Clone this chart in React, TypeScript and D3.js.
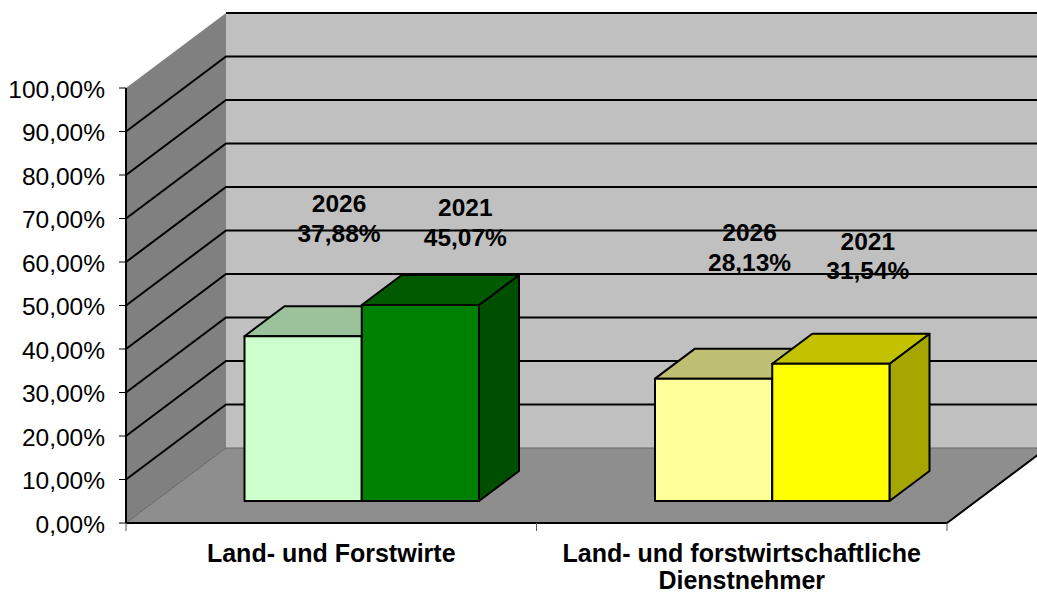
import * as d3 from "d3";

const categories = ["Land- und Forstwirte", "Land- und forstwirtschaftliche\nDienstnehmer"];
const seriesYears = ["2026", "2021"];
const values2026 = [37.88, 28.13];
const values2021 = [45.07, 31.54];
const yTicks = d3.range(0, 101, 10);

// front/top/side colours per category and series
const frontColors = [["#ccffcc", "#008000"], ["#ffff99", "#ffff00"]];
const topColors = [["#9cc29c", "#005a00"], ["#bfbf73", "#c2c200"]];
const sideColors = [["#7ca37c", "#004f00"], ["#a6a660", "#a6a600"]];

// hand placed data labels in the original, offset from top-centre of the front face
const labelDx = [[36, 45], [36, 37]];
const labelDy = [[-103, -67.5], [-116.5, -93]];

const width = 1037;
const height = 594;
const depthX = 100;
const depthY = 75;
const barDepthX = 40;
const barDepthY = 30;
const barOffsetX = 30.5; // bars sit part way into the floor
const barOffsetY = 22;

const font = "'Liberation Sans', Arial, sans-serif";

const x = d3.scaleBand().domain(categories).range([126, 947]);
const y = d3.scaleLinear().domain([0, 100]).range([523, 88]);
const inner = d3.scaleBand().domain(seriesYears).range([88, x.bandwidth() - 88]);

const poly = (pts: [number, number][]) => d3.line()(pts) + "Z";
const pct = (v: number) => v.toFixed(2).replace(".", ",") + "%";

export default function App() {
  const left = x.range()[0];
  const right = x.range()[1];
  const y0 = y(0);
  const y100 = y(100);
  const series = [values2026, values2021];

  return (
    <svg
      width={width}
      height={height}
      style={{ position: "absolute", left: 0, top: 0, background: "#fff" }}
      fontFamily={font}
    >
      {/* walls and floor */}
      <path
        d={poly([[left, y100], [left + depthX, y100 - depthY], [left + depthX, y0 - depthY], [left, y0]])}
        fill="#808080"
      />
      <rect x={left + depthX} y={y100 - depthY} width={right - left} height={y0 - y100} fill="#c0c0c0" />
      <path
        d={poly([[left, y0], [left + depthX, y0 - depthY], [right + depthX, y0 - depthY], [right, y0]])}
        fill="#8e8e8e"
      />
      <path
        d={d3.line()([[left, y0], [left + depthX, y0 - depthY], [right + depthX, y0 - depthY]])!}
        fill="none"
        stroke="#666"
        strokeWidth={1}
      />

      {/* grid lines, the top one stops short of the wall's slanted edge */}
      {yTicks.slice(1).map((t) => (
        <path
          key={t}
          d={
            t === 100
              ? d3.line()([[left + depthX, y(t) - depthY], [right + depthX, y(t) - depthY]])!
              : d3.line()([[left, y(t)], [left + depthX, y(t) - depthY], [right + depthX, y(t) - depthY]])!
          }
          fill="none"
          stroke="#000"
          strokeWidth={2}
        />
      ))}

      {/* value axis */}
      <line x1={left} x2={left} y1={y100} y2={y0} stroke="#000" strokeWidth={2} />
      {yTicks.map((t) => (
        <g key={t}>
          <line x1={left - 7} x2={left} y1={y(t)} y2={y(t)} stroke="#000" strokeWidth={1} />
          <text x={105} y={y(t) + 9.5} textAnchor="end" fontSize={24.5} fill="#000">
            {pct(t)}
          </text>
        </g>
      ))}

      {/* floor front edges */}
      <path
        d={d3.line()([[left, y0], [right, y0], [right + depthX, y0 - depthY]])!}
        fill="none"
        stroke="#000"
        strokeWidth={2}
      />
      {[left, left + x.bandwidth(), right].map((tx) => (
        <line key={tx} x1={tx} x2={tx} y1={y0} y2={y0 + 8} stroke="#555" strokeWidth={1} />
      ))}

      {/* bars */}
      {categories.map((c, ci) =>
        seriesYears.map((s, si) => {
          const x0 = x(c)! + inner(s)! + barOffsetX;
          const x1 = x0 + inner.bandwidth();
          const bottom = y0 - barOffsetY;
          const top = bottom - (y0 - y(series[si][ci]));
          return (
            <g key={s} stroke="#000" strokeWidth={2} strokeLinejoin="round">
              <path
                d={poly([[x1, top], [x1 + barDepthX, top - barDepthY], [x1 + barDepthX, bottom - barDepthY], [x1, bottom]])}
                fill={sideColors[ci][si]}
              />
              <path
                d={poly([[x0, top], [x0 + barDepthX, top - barDepthY], [x1 + barDepthX, top - barDepthY], [x1, top]])}
                fill={topColors[ci][si]}
              />
              <rect x={x0} y={top} width={x1 - x0} height={bottom - top} fill={frontColors[ci][si]} />
            </g>
          );
        })
      )}

      {/* data labels */}
      {categories.map((c, ci) =>
        seriesYears.map((s, si) => {
          const x0 = x(c)! + inner(s)! + barOffsetX;
          const top = y0 - barOffsetY - (y0 - y(series[si][ci]));
          const lx = x0 + inner.bandwidth() / 2 + labelDx[ci][si];
          const ly = top + labelDy[ci][si];
          return (
            <text key={s} textAnchor="middle" fontSize={24.5} fontWeight="bold" fill="#000">
              <tspan x={lx} y={ly - 21}>{s}</tspan>
              <tspan x={lx} y={ly + 8.5}>{pct(series[si][ci])}</tspan>
            </text>
          );
        })
      )}

      {/* category labels */}
      {categories.map((c) => (
        <text key={c} textAnchor="middle" fontSize={25} fontWeight="bold" fill="#000">
          {c.split("\n").map((line, i) => (
            <tspan key={line} x={x(c)! + x.bandwidth() / 2} y={562 + i * 26.5}>
              {line}
            </tspan>
          ))}
        </text>
      ))}
    </svg>
  );
}
